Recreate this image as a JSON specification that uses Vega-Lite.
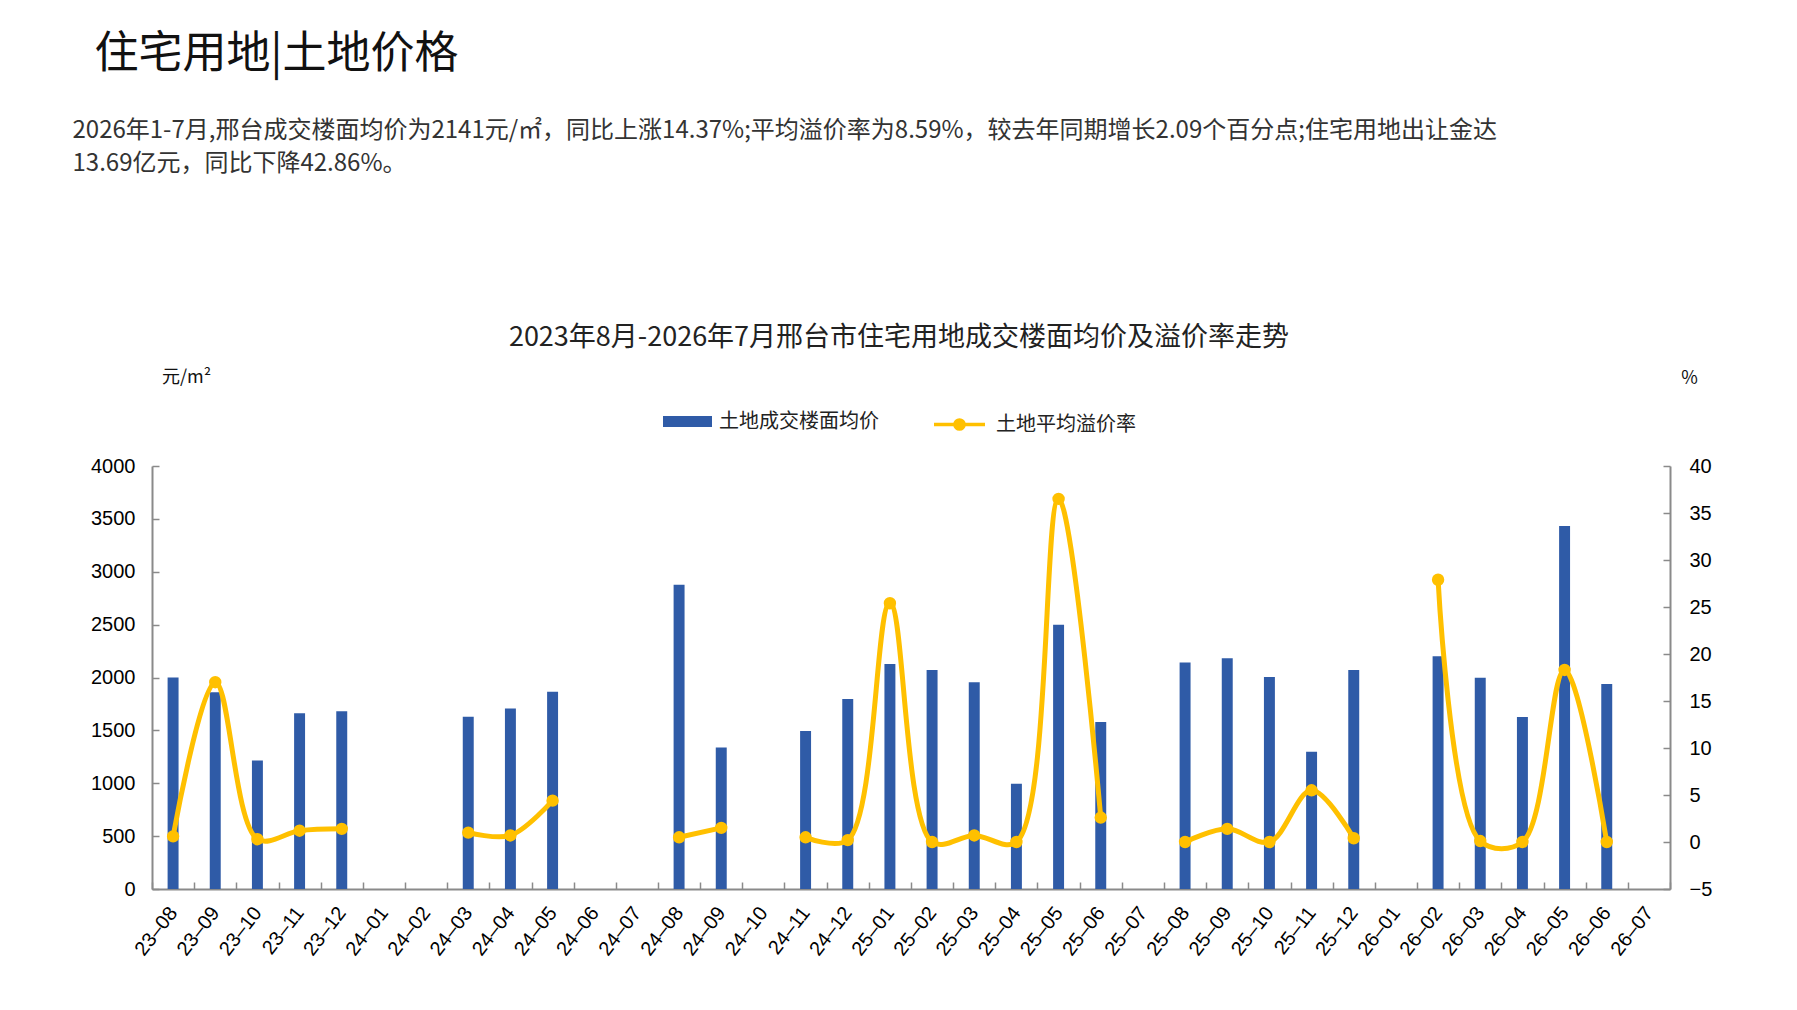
{
  "$schema": "https://vega.github.io/schema/vega-lite/v6.json",
  "background": "white",
  "padding": {"left": 72, "top": 33, "right": 30, "bottom": 30},
  "title": {
    "text": "\u200b\u2002住宅用地|土地价格",
    "subtitle": [
      "2026年1-7月,邢台成交楼面均价为2141元/㎡，同比上涨14.37%;平均溢价率为8.59%，较去年同期增长2.09个百分点;住宅用地出让金达",
      "13.69亿元，同比下降42.86%。"
    ],
    "anchor": "start",
    "dx": -18,
    "font": "Noto Sans CJK SC",
    "fontSize": 44,
    "fontWeight": "normal",
    "color": "#111111",
    "subtitleFont": "Noto Sans CJK SC",
    "subtitleFontSize": 24,
    "subtitleColor": "#333333",
    "subtitleLineHeight": 33,
    "subtitlePadding": 42,
    "offset": 148
  },
  "config": {
    "view": {"stroke": null},
    "axis": {"grid": false},
    "concat": {"spacing": 0}
  },
  "vconcat": [
    {
      "width": 1518,
      "height": 423,
      "title": {
        "text": "2023年8月-2026年7月邢台市住宅用地成交楼面均价及溢价率走势",
        "font": "Noto Sans CJK SC",
        "fontSize": 27,
        "fontWeight": "normal",
        "color": "#222222",
        "anchor": "middle",
        "dx": -12,
        "offset": 16
      },
      "data": {
        "values": [
          {"m": "23–08", "price": 2000, "rate": 0.6},
          {"m": "23–09", "price": 1860, "rate": 17.0},
          {"m": "23–10", "price": 1215, "rate": 0.3},
          {"m": "23–11", "price": 1663, "rate": 1.2},
          {"m": "23–12", "price": 1682, "rate": 1.4},
          {"m": "24–01", "price": null, "rate": null},
          {"m": "24–02", "price": null, "rate": null},
          {"m": "24–03", "price": 1630, "rate": 1.0},
          {"m": "24–04", "price": 1708, "rate": 0.7},
          {"m": "24–05", "price": 1865, "rate": 4.4},
          {"m": "24–06", "price": null, "rate": null},
          {"m": "24–07", "price": null, "rate": null},
          {"m": "24–08", "price": 2878, "rate": 0.5},
          {"m": "24–09", "price": 1338, "rate": 1.5},
          {"m": "24–10", "price": null, "rate": null},
          {"m": "24–11", "price": 1494, "rate": 0.5},
          {"m": "24–12", "price": 1797, "rate": 0.2},
          {"m": "25–01", "price": 2128, "rate": 25.4},
          {"m": "25–02", "price": 2071, "rate": 0.0},
          {"m": "25–03", "price": 1954, "rate": 0.7},
          {"m": "25–04", "price": 995, "rate": 0.0},
          {"m": "25–05", "price": 2500, "rate": 36.5},
          {"m": "25–06", "price": 1579, "rate": 2.6},
          {"m": "25–07", "price": null, "rate": null},
          {"m": "25–08", "price": 2143, "rate": 0.0},
          {"m": "25–09", "price": 2181, "rate": 1.4},
          {"m": "25–10", "price": 2005, "rate": 0.0},
          {"m": "25–11", "price": 1299, "rate": 5.5},
          {"m": "25–12", "price": 2071, "rate": 0.4},
          {"m": "26–01", "price": null, "rate": null},
          {"m": "26–02", "price": 2200, "rate": 27.9},
          {"m": "26–03", "price": 1998, "rate": 0.1},
          {"m": "26–04", "price": 1626, "rate": 0.0},
          {"m": "26–05", "price": 3433, "rate": 18.3},
          {"m": "26–06", "price": 1939, "rate": 0.0},
          {"m": "26–07", "price": null, "rate": null}
        ]
      },
      "encoding": {
        "x": {
          "field": "m",
          "type": "ordinal",
          "sort": null,
          "scale": {
            "domain": ["23–08", "23–09", "23–10", "23–11", "23–12", "24–01", "24–02", "24–03", "24–04", "24–05", "24–06", "24–07",
                       "24–08", "24–09", "24–10", "24–11", "24–12", "25–01", "25–02", "25–03", "25–04", "25–05", "25–06", "25–07",
                       "25–08", "25–09", "25–10", "25–11", "25–12", "26–01", "26–02", "26–03", "26–04", "26–05", "26–06", "26–07"],
            "paddingInner": 0,
            "paddingOuter": 0
          },
          "axis": {
            "title": null,
            "labelAngle": -52,
            "labelAlign": "right",
            "labelBaseline": "middle",
            "labelPadding": 27,
            "labelFont": "Liberation Sans",
            "labelFontSize": 20,
            "labelColor": "#000000",
            "tickBand": "extent",
            "tickSize": -7,
            "tickWidth": 1.5,
            "tickColor": "#8a8a8a",
            "domainColor": "#8a8a8a",
            "domainWidth": 2
          }
        }
      },
      "layer": [
        {
          "mark": {"type": "bar", "width": {"band": 0.26}},
          "encoding": {
            "y": {
              "field": "price",
              "type": "quantitative",
              "scale": {"domain": [0, 4000]},
              "axis": {
                "title": "元/m²",
                "titleAngle": 0,
                "titleX": 34,
                "titleY": -89,
                "titleAlign": "center",
                "titleBaseline": "middle",
                "titleFont": "Noto Sans CJK SC",
                "titleFontSize": 18,
                "titleFontWeight": "normal",
                "titleColor": "#111111",
                "values": [0, 500, 1000, 1500, 2000, 2500, 3000, 3500, 4000],
                "format": "d",
                "labelPadding": 24,
                "labelFont": "Liberation Sans",
                "labelFontSize": 20,
                "labelColor": "#000000",
                "tickSize": -7,
                "tickWidth": 1.5,
                "tickColor": "#8a8a8a",
                "domainColor": "#8a8a8a",
                "domainWidth": 2
              }
            },
            "fill": {
              "datum": "土地成交楼面均价",
              "scale": {"range": ["#2F5BA7"]},
              "legend": {
                "orient": "none",
                "legendX": 511,
                "legendY": -69,
                "padding": 0,
                "title": null,
                "symbolType": "M-1,-0.225H1V0.225H-1Z",
                "symbolSize": 2401,
                "symbolStrokeWidth": 0,
                "labelOffset": 7,
                "labelFont": "Noto Sans CJK SC",
                "labelFontSize": 20,
                "labelColor": "#222222"
              }
            }
          }
        },
        {
          "encoding": {
            "y": {
              "field": "rate",
              "type": "quantitative",
              "scale": {"domain": [-5, 40]},
              "axis": {
                "orient": "right",
                "title": "%",
                "titleAngle": 0,
                "titleX": 19,
                "titleY": -88,
                "titleAlign": "center",
                "titleBaseline": "middle",
                "titleFont": "Noto Sans CJK SC",
                "titleFontSize": 18,
                "titleFontWeight": "normal",
                "titleColor": "#111111",
                "values": [-5, 0, 5, 10, 15, 20, 25, 30, 35, 40],
                "labelPadding": 26,
                "labelFont": "Liberation Sans",
                "labelFontSize": 20,
                "labelColor": "#000000",
                "tickSize": -7,
                "tickWidth": 1.5,
                "tickColor": "#8a8a8a",
                "domainColor": "#8a8a8a",
                "domainWidth": 2
              }
            }
          },
          "layer": [
            {
              "mark": {
                "type": "line",
                "interpolate": "catmull-rom",
                "strokeWidth": 5,
                "invalid": "break-paths-show-domains"
              },
              "encoding": {
                "stroke": {
                  "datum": "土地平均溢价率",
                  "scale": {"range": ["#FFC000"]},
                  "legend": {
                    "orient": "none",
                    "legendX": 780,
                    "legendY": -69,
                    "padding": 0,
                    "title": null,
                    "symbolType": "M-1,0H1M-0.18,0A0.18,0.18,0,1,1,0.18,0A0.18,0.18,0,1,1,-0.18,0Z",
                    "symbolSize": 2601,
                    "symbolStrokeWidth": 3.5,
                    "symbolFillColor": "#FFC000",
                    "labelOffset": 9,
                    "labelFont": "Noto Sans CJK SC",
                    "labelFontSize": 20,
                    "labelColor": "#222222",
                    "encode": {"symbols": {"update": {"fill": {"value": "#FFC000"}}}}
                  }
                }
              }
            },
            {
              "mark": {"type": "point", "filled": true, "size": 154, "color": "#FFC000", "opacity": 1}
            }
          ]
        }
      ],
      "resolve": {"scale": {"y": "independent"}}
    }
  ]
}
